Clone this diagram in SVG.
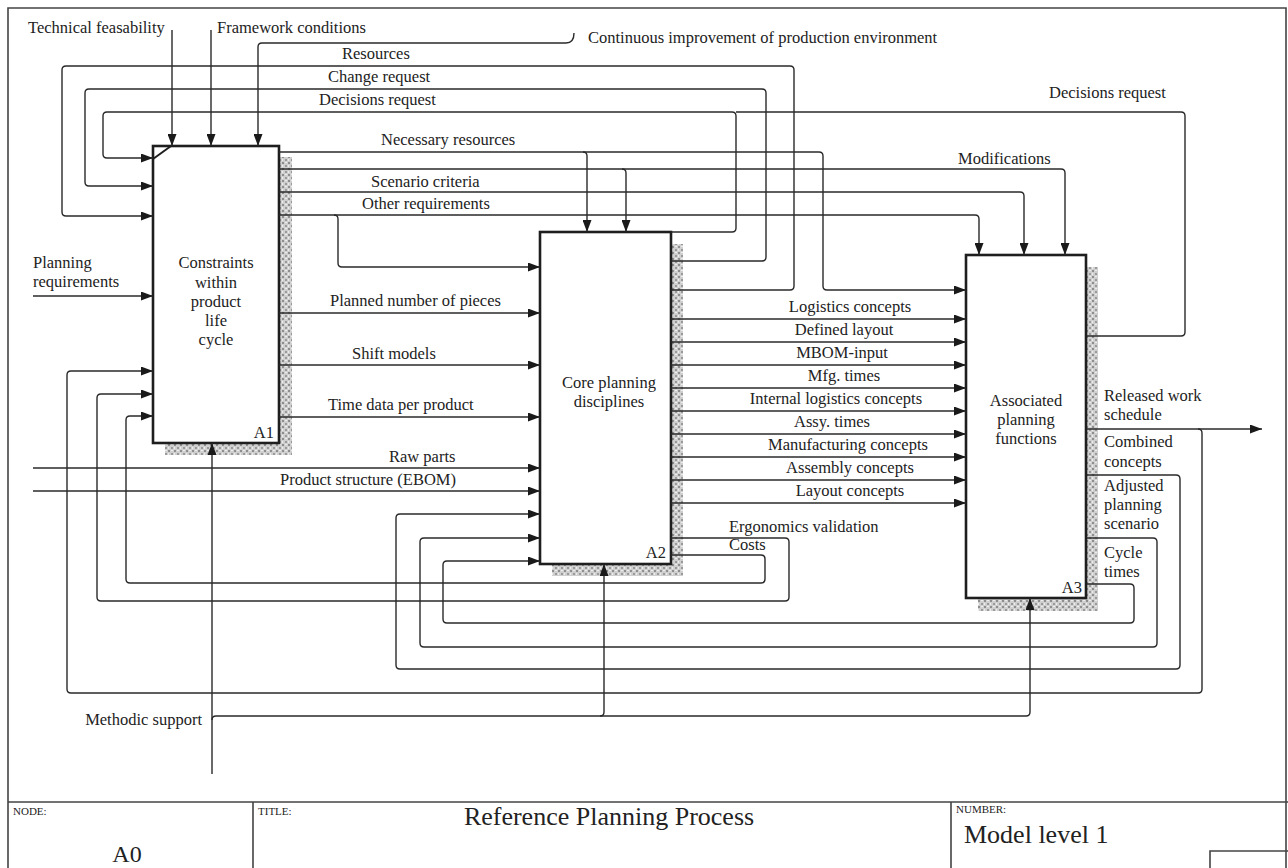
<svg xmlns="http://www.w3.org/2000/svg" width="1288" height="868" viewBox="0 0 1288 868">
  <defs>
    <pattern id="shade" width="6" height="6" patternUnits="userSpaceOnUse">
      <rect width="6" height="6" fill="#cfcfcf"/>
      <rect x="0" y="0" width="2" height="2" fill="#8e8e8e"/>
      <rect x="3" y="3" width="2" height="2" fill="#9a9a9a"/>
      <rect x="3" y="0" width="2" height="1" fill="#ededed"/>
      <rect x="0" y="3" width="1" height="2" fill="#ededed"/>
    </pattern>
    <marker id="arrow" viewBox="0 0 12 9" refX="12" refY="4.5" markerWidth="12" markerHeight="9" markerUnits="userSpaceOnUse" orient="auto">
      <path d="M0,0 L12,4.5 L0,9 z" fill="#1a1a1a"/>
    </marker>
    <style>
      .frame { fill: none; stroke: #444; stroke-width: 1.6; }
      .box { fill: #fff; stroke: #1e1e1e; stroke-width: 2.6; }
      .shadow { fill: url(#shade); }
      .line { fill: none; stroke: #2a2a2a; stroke-width: 1.4; }
      .arr { marker-end: url(#arrow); }
      text { font-family: "Liberation Serif", "Times New Roman", serif; font-size: 16.5px; fill: #222; }
      .mid { text-anchor: middle; }
      .end { text-anchor: end; }
      .small { font-size: 11px; }
      .big { font-size: 26px; }
    </style>
  </defs>

  <rect width="1288" height="868" fill="#fff"/>

  <!-- sheet frame and title block -->
  <g id="frame">
    <path class="frame" d="M8,868 L8,8 L1286,8 L1286,868"/>
    <path class="frame" d="M8,802 L1288,802 M253,802 L253,868 M951,802 L951,868 M1210,868 L1210,851 L1288,851"/>
    <text class="small" x="13" y="815">NODE:</text>
    <text class="big mid" x="127" y="862" style="font-size:24px">A0</text>
    <text class="small" x="258" y="815">TITLE:</text>
    <text class="big mid" x="609" y="825">Reference Planning Process</text>
    <text class="small" x="956" y="813">NUMBER:</text>
    <text class="big" x="964" y="843">Model level 1</text>
  </g>

  <!-- activity boxes -->
  <g id="node-a1">
    <rect class="shadow" x="165" y="157" width="127" height="298"/>
    <rect class="box" x="153" y="146" width="126" height="297"/>
    <line x1="153" y1="159" x2="171" y2="146" stroke="#1e1e1e" stroke-width="2"/>
    <text class="mid" x="216" y="268">Constraints</text>
    <text class="mid" x="216" y="288">within</text>
    <text class="mid" x="216" y="307">product</text>
    <text class="mid" x="216" y="326">life</text>
    <text class="mid" x="216" y="345">cycle</text>
    <text class="end" x="274" y="438">A1</text>
  </g>

  <g id="node-a2">
    <rect class="shadow" x="552" y="244" width="131" height="332"/>
    <rect class="box" x="540" y="232" width="131" height="332"/>
    <text class="mid" x="609" y="388">Core planning</text>
    <text class="mid" x="609" y="407">disciplines</text>
    <text class="end" x="666" y="558">A2</text>
  </g>

  <g id="node-a3">
    <rect class="shadow" x="978" y="267" width="120" height="344"/>
    <rect class="box" x="966" y="255" width="120" height="343"/>
    <text class="mid" x="1026" y="406">Associated</text>
    <text class="mid" x="1026" y="425">planning</text>
    <text class="mid" x="1026" y="444">functions</text>
    <text class="end" x="1082" y="593">A3</text>
  </g>

  <!-- arrows between activities and the boundary -->
  <g id="connectors">
    <!-- controls on A1 -->
    <path class="line arr" d="M172,30 L172,146"/>
    <path class="line arr" d="M211,30 L211,146"/>
    <path class="line arr" d="M574,33 Q574,43 566,43 L262,43 Q258,43 258,47 L258,146"/>

    <!-- feedback from A2 to A1 over the top -->
    <path class="line arr" d="M671,290 L790,290 Q794,290 794,286 L794,70 Q794,66 790,66 L66,66 Q62,66 62,70 L62,212 Q62,216 66,216 L153,216"/>
    <path class="line arr" d="M671,261 L762,261 Q766,261 766,257 L766,93 Q766,89 762,89 L89,89 Q85,89 85,93 L85,182 Q85,186 89,186 L153,186"/>
    <path class="line arr" d="M671,232 L732,232 Q736,232 736,228 L736,116 Q736,112 732,112 L107,112 Q103,112 103,116 L103,154 Q103,158 107,158 L153,158"/>
    <path class="line" d="M1087,336 L1181,336 Q1185,336 1185,332 L1185,116 Q1185,112 1181,112 L736,112"/>

    <!-- outputs of A1 -->
    <path class="line arr" d="M279,152 L583,152 Q587,152 587,156 L587,232"/>
    <path class="line arr" d="M583,152 L819,152 Q823,152 823,156 L823,286 Q823,290 827,290 L966,290"/>
    <path class="line arr" d="M279,169 L622,169 Q626,169 626,173 L626,232"/>
    <path class="line arr" d="M622,169 L1061,169 Q1065,169 1065,173 L1065,255"/>
    <path class="line arr" d="M279,192 L1020,192 Q1024,192 1024,196 L1024,255"/>
    <path class="line arr" d="M279,215 L975,215 Q979,215 979,219 L979,255"/>
    <path class="line arr" d="M334,215 Q338,215 338,219 L338,263 Q338,267 342,267 L540,267"/>
    <path class="line arr" d="M279,313 L540,313"/>
    <path class="line arr" d="M279,365 L540,365"/>
    <path class="line arr" d="M279,417 L540,417"/>

    <!-- external inputs -->
    <path class="line arr" d="M33,296 L153,296"/>
    <path class="line arr" d="M33,468 L540,468"/>
    <path class="line arr" d="M33,491 L540,491"/>

    <!-- outputs of A2 into A3 -->
    <path class="line arr" d="M671,319 L966,319"/>
    <path class="line arr" d="M671,342 L966,342"/>
    <path class="line arr" d="M671,365 L966,365"/>
    <path class="line arr" d="M671,388 L966,388"/>
    <path class="line arr" d="M671,411 L966,411"/>
    <path class="line arr" d="M671,434 L966,434"/>
    <path class="line arr" d="M671,457 L966,457"/>
    <path class="line arr" d="M671,480 L966,480"/>
    <path class="line arr" d="M671,503 L966,503"/>

    <!-- feedback from A2 to A1 underneath -->
    <path class="line arr" d="M671,538 L785,538 Q789,538 789,542 L789,597 Q789,601 785,601 L101,601 Q97,601 97,597 L97,398 Q97,394 101,394 L153,394"/>
    <path class="line arr" d="M671,555 L761,555 Q765,555 765,559 L765,579 Q765,583 761,583 L130,583 Q126,583 126,579 L126,420 Q126,416 130,416 L153,416"/>

    <!-- outputs of A3 -->
    <path class="line arr" d="M1087,429 L1262,429"/>
    <path class="line arr" d="M1198,429 Q1202,429 1202,433 L1202,689 Q1202,693 1198,693 L71,693 Q67,693 67,689 L67,375 Q67,371 71,371 L153,371"/>
    <path class="line arr" d="M1087,475 L1176,475 Q1180,475 1180,479 L1180,665 Q1180,669 1176,669 L400,669 Q396,669 396,665 L396,518 Q396,514 400,514 L540,514"/>
    <path class="line arr" d="M1087,538 L1153,538 Q1157,538 1157,542 L1157,643 Q1157,647 1153,647 L424,647 Q420,647 420,643 L420,542 Q420,538 424,538 L540,538"/>
    <path class="line arr" d="M1087,584 L1130,584 Q1134,584 1134,588 L1134,619 Q1134,623 1130,623 L447,623 Q443,623 443,619 L443,565 Q443,561 447,561 L540,561"/>

    <!-- mechanism -->
    <path class="line arr" d="M212,774 L212,443"/>
    <path class="line arr" d="M212,720 Q212,716 216,716 L600,716 Q604,716 604,712 L604,564"/>
    <path class="line arr" d="M600,716 L1026,716 Q1030,716 1030,712 L1030,598"/>
  </g>

  <!-- arrow labels -->
  <g id="labels">
    <text x="28" y="33">Technical feasability</text>
    <text x="217" y="33">Framework conditions</text>
    <text x="588" y="43">Continuous improvement of production environment</text>
    <text x="342" y="59">Resources</text>
    <text x="328" y="82">Change request</text>
    <text x="319" y="105">Decisions request</text>
    <text x="1049" y="98">Decisions request</text>
    <text x="381" y="145">Necessary resources</text>
    <text x="958" y="164">Modifications</text>
    <text x="371" y="187">Scenario criteria</text>
    <text x="362" y="209">Other requirements</text>
    <text x="33" y="268">Planning</text>
    <text x="33" y="287">requirements</text>
    <text x="330" y="306">Planned number of pieces</text>
    <text x="352" y="359">Shift models</text>
    <text x="328" y="410">Time data per product</text>
    <text x="389" y="462">Raw parts</text>
    <text x="280" y="485">Product structure (EBOM)</text>
    <text class="mid" x="850" y="312">Logistics concepts</text>
    <text class="mid" x="844" y="335">Defined layout</text>
    <text class="mid" x="842" y="358">MBOM-input</text>
    <text class="mid" x="844" y="381">Mfg. times</text>
    <text class="mid" x="836" y="404">Internal logistics concepts</text>
    <text class="mid" x="832" y="427">Assy. times</text>
    <text class="mid" x="848" y="450">Manufacturing concepts</text>
    <text class="mid" x="850" y="473">Assembly concepts</text>
    <text class="mid" x="850" y="496">Layout concepts</text>
    <text x="729" y="532">Ergonomics validation</text>
    <text x="729" y="550">Costs</text>
    <text x="1104" y="401">Released work</text>
    <text x="1104" y="420">schedule</text>
    <text x="1104" y="447">Combined</text>
    <text x="1104" y="467">concepts</text>
    <text x="1104" y="491">Adjusted</text>
    <text x="1104" y="510">planning</text>
    <text x="1104" y="529">scenario</text>
    <text x="1104" y="558">Cycle</text>
    <text x="1104" y="577">times</text>
    <text class="end" x="202" y="725">Methodic support</text>
  </g>
</svg>
